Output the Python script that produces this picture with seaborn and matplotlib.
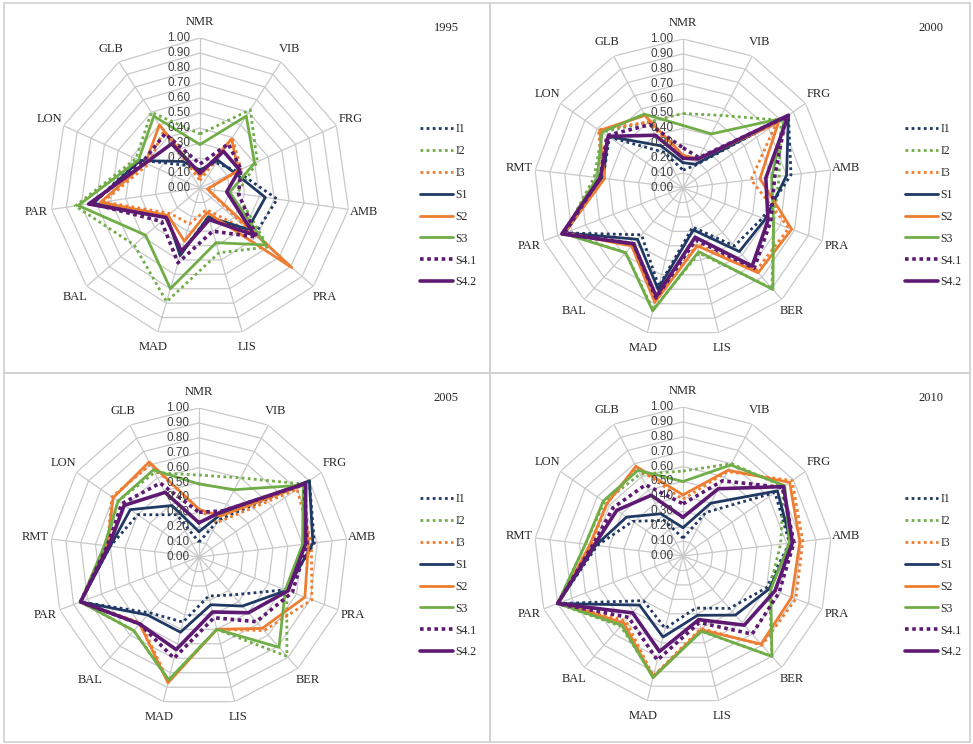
import numpy as np
import pandas as pd
import seaborn as sns
import matplotlib.pyplot as plt
from matplotlib.patches import Rectangle

# axes of the radar charts
cats_1995 = ["NMR", "VIB", "FRG", "AMB", "PRA", "LIS", "MAD", "BAL", "PAR", "LON", "GLB"]
cats_later = ["NMR", "VIB", "FRG", "AMB", "PRA", "BER", "LIS", "MAD", "BAL", "PAR", "RMT", "LON", "GLB"]

series = ["I1", "I2", "I3", "S1", "S2", "S3", "S4.1", "S4.2"]

vals_1995 = {
    "I1":   [0.12, 0.20, 0.27, 0.52, 0.48, 0.20, 0.45, 0.30, 0.72, 0.45, 0.18],
    "I2":   [0.36, 0.62, 0.42, 0.25, 0.60, 0.45, 0.79, 0.58, 0.84, 0.47, 0.60],
    "I3":   [0.05, 0.40, 0.30, 0.05, 0.45, 0.15, 0.25, 0.26, 0.65, 0.38, 0.45],
    "S1":   [0.12, 0.22, 0.25, 0.44, 0.42, 0.20, 0.47, 0.29, 0.72, 0.44, 0.21],
    "S2":   [0.08, 0.39, 0.28, 0.05, 0.81, 0.17, 0.37, 0.28, 0.67, 0.40, 0.50],
    "S3":   [0.29, 0.57, 0.40, 0.20, 0.58, 0.38, 0.70, 0.48, 0.82, 0.45, 0.57],
    "S4.1": [0.16, 0.35, 0.30, 0.26, 0.50, 0.30, 0.52, 0.34, 0.73, 0.42, 0.43],
    "S4.2": [0.10, 0.29, 0.29, 0.18, 0.48, 0.22, 0.44, 0.30, 0.75, 0.40, 0.35],
}

vals_2000 = {
    "I1":   [0.12, 0.17, 0.86, 0.73, 0.57, 0.52, 0.27, 0.68, 0.42, 0.85, 0.54, 0.60, 0.27],
    "I2":   [0.50, 0.55, 0.80, 0.65, 0.65, 0.90, 0.45, 0.84, 0.58, 0.85, 0.60, 0.66, 0.50],
    "I3":   [0.20, 0.22, 0.76, 0.46, 0.76, 0.74, 0.39, 0.78, 0.50, 0.85, 0.54, 0.69, 0.50],
    "S1":   [0.17, 0.18, 0.86, 0.70, 0.59, 0.57, 0.29, 0.70, 0.46, 0.85, 0.54, 0.61, 0.32],
    "S2":   [0.22, 0.22, 0.78, 0.52, 0.78, 0.76, 0.40, 0.79, 0.52, 0.85, 0.53, 0.68, 0.55],
    "S3":   [0.42, 0.41, 0.83, 0.60, 0.65, 0.91, 0.44, 0.85, 0.58, 0.86, 0.58, 0.66, 0.56],
    "S4.1": [0.27, 0.23, 0.84, 0.62, 0.63, 0.72, 0.36, 0.76, 0.50, 0.85, 0.56, 0.62, 0.48],
    "S4.2": [0.20, 0.22, 0.86, 0.56, 0.61, 0.70, 0.34, 0.75, 0.50, 0.87, 0.56, 0.61, 0.40],
}

vals_2005 = {
    "I1":   [0.10, 0.28, 0.90, 0.78, 0.62, 0.34, 0.27, 0.45, 0.50, 0.85, 0.60, 0.50, 0.32],
    "I2":   [0.55, 0.60, 0.86, 0.71, 0.63, 0.89, 0.50, 0.85, 0.66, 0.85, 0.63, 0.66, 0.64],
    "I3":   [0.32, 0.26, 0.80, 0.76, 0.81, 0.66, 0.50, 0.86, 0.59, 0.85, 0.62, 0.71, 0.70],
    "S1":   [0.17, 0.33, 0.90, 0.77, 0.63, 0.44, 0.33, 0.52, 0.52, 0.85, 0.60, 0.56, 0.39],
    "S2":   [0.32, 0.31, 0.85, 0.74, 0.76, 0.64, 0.50, 0.87, 0.60, 0.85, 0.62, 0.70, 0.72],
    "S3":   [0.49, 0.51, 0.85, 0.70, 0.62, 0.81, 0.50, 0.85, 0.66, 0.85, 0.64, 0.66, 0.66],
    "S4.1": [0.30, 0.35, 0.86, 0.73, 0.67, 0.58, 0.42, 0.70, 0.60, 0.85, 0.62, 0.63, 0.56],
    "S4.2": [0.23, 0.35, 0.87, 0.72, 0.64, 0.50, 0.38, 0.64, 0.60, 0.85, 0.61, 0.61, 0.49],
}

vals_2010 = {
    "I1":   [0.12, 0.33, 0.75, 0.72, 0.60, 0.47, 0.36, 0.50, 0.40, 0.90, 0.58, 0.41, 0.27],
    "I2":   [0.57, 0.70, 0.82, 0.66, 0.62, 0.90, 0.52, 0.83, 0.63, 0.90, 0.66, 0.64, 0.62],
    "I3":   [0.38, 0.64, 0.89, 0.81, 0.81, 0.80, 0.50, 0.83, 0.58, 0.89, 0.62, 0.62, 0.67],
    "S1":   [0.19, 0.40, 0.77, 0.73, 0.62, 0.53, 0.41, 0.56, 0.44, 0.90, 0.59, 0.46, 0.32],
    "S2":   [0.41, 0.65, 0.87, 0.79, 0.78, 0.79, 0.51, 0.84, 0.60, 0.89, 0.63, 0.62, 0.68],
    "S3":   [0.50, 0.69, 0.83, 0.72, 0.63, 0.90, 0.52, 0.84, 0.62, 0.90, 0.66, 0.65, 0.65],
    "S4.1": [0.35, 0.57, 0.81, 0.75, 0.69, 0.70, 0.46, 0.72, 0.55, 0.90, 0.61, 0.57, 0.54],
    "S4.2": [0.26, 0.51, 0.82, 0.74, 0.66, 0.62, 0.44, 0.66, 0.51, 0.90, 0.60, 0.54, 0.46],
}

years = ["1995", "2000", "2005", "2010"]
levels = [0.0, 0.1, 0.2, 0.3, 0.4, 0.5, 0.6, 0.7, 0.8, 0.9, 1.0]

# styles
navy, green, orange, purple = "#1F3864", "#70AD47", "#ED7D31", "#5E1A72"
colors = {"I1": navy, "I2": green, "I3": orange, "S1": navy,
          "S2": orange, "S3": green, "S4.1": purple, "S4.2": purple}
dashes = {"I1": (1, 1.2), "I2": (1, 1.2), "I3": (1, 1.2), "S1": "",
          "S2": "", "S3": "", "S4.1": (1, 1), "S4.2": ""}
widths = {"I1": 2.0, "I2": 2.0, "I3": 2.0, "S1": 2.0,
          "S2": 2.0, "S3": 2.0, "S4.1": 2.6, "S4.2": 2.6}
grid_c = "#c9c9c9"

W, H = 973, 744

sns.set_style("white")
plt.rcParams["font.family"] = ["Liberation Serif", "DejaVu Serif"]


def long_table(cats, vals):
    n = len(cats)
    rows = []
    for s in series:
        for i in range(n + 1):
            rows.append({"series": s, "theta": 2 * np.pi * i / n, "value": vals[s][i % n]})
    return pd.DataFrame(rows)


def radar(fig, cx, cy, R, cats, vals, year, legend_xy, year_xy):
    ax = fig.add_axes([(cx - R) / W, 1 - (cy + R) / H, 2 * R / W, 2 * R / H], projection="polar")
    n = len(cats)
    ang = np.linspace(0, 2 * np.pi, n + 1)
    ax.set_theta_zero_location("N")
    ax.set_theta_direction(-1)

    for lv in levels[1:]:
        ax.plot(ang, [lv] * (n + 1), color=grid_c, lw=0.9, zorder=1)
    ax.set_xticks(ang[:-1])
    ax.set_xticklabels([])
    ax.xaxis.grid(True, color=grid_c, lw=0.9)
    ax.yaxis.grid(False)
    ax.set_yticks([])
    ax.spines["polar"].set_visible(False)

    sns.lineplot(data=long_table(cats, vals), x="theta", y="value",
                 hue="series", style="series", size="series",
                 hue_order=series, style_order=series, size_order=series,
                 palette=colors, dashes=dashes, sizes=widths,
                 sort=False, estimator=None, ax=ax, zorder=3)
    ax.set_ylim(0, 1)
    ax.set_xlabel("")
    ax.set_ylabel("")

    for a, c in zip(ang[:-1], cats):
        ax.text(a, 1.105, c, ha="center", va="center", fontsize=9, color="#262626")
    for lv in levels:
        ax.annotate(f"{lv:.2f}", xy=(0, lv), xytext=(-7, 0), textcoords="offset points",
                    ha="right", va="center", fontsize=8.5, color="#404040",
                    family=["Liberation Sans", "DejaVu Sans"], zorder=4)

    handles, labels = ax.get_legend_handles_labels()
    if ax.get_legend() is not None:
        ax.get_legend().remove()
    fig.legend(handles, labels, loc="upper left", bbox_to_anchor=legend_xy,
               frameon=False, fontsize=8.5, handlelength=2.8, handletextpad=0.2,
               labelspacing=0.84, borderaxespad=0, borderpad=0)
    fig.text(year_xy[0] / W, 1 - year_xy[1] / H, year, ha="center", va="center",
             fontsize=9, color="#262626")
    return ax


fig = plt.figure(figsize=(W / 100, H / 100), dpi=100)

# panel frames
for (x0, y0, x1, y1) in [(4, 3, 490, 373), (490, 3, 970, 373), (4, 373, 490, 742), (490, 373, 970, 742)]:
    fig.add_artist(Rectangle((x0 / W, 1 - y1 / H), (x1 - x0) / W, (y1 - y0) / H,
                             transform=fig.transFigure, fill=False, ec="#d0d0d0", lw=1.2))

radar(fig, 200, 188, 150, cats_1995, vals_1995, years[0], (420 / W, 1 - 123 / H), (446, 28))
radar(fig, 683, 188, 149, cats_later, vals_2000, years[1], (905 / W, 1 - 123 / H), (931, 28))
radar(fig, 199, 557, 149, cats_later, vals_2005, years[2], (420 / W, 1 - 493 / H), (446, 398))
radar(fig, 683, 556, 149, cats_later, vals_2010, years[3], (905 / W, 1 - 493 / H), (931, 398))

fig.savefig("out.png", dpi=100)
